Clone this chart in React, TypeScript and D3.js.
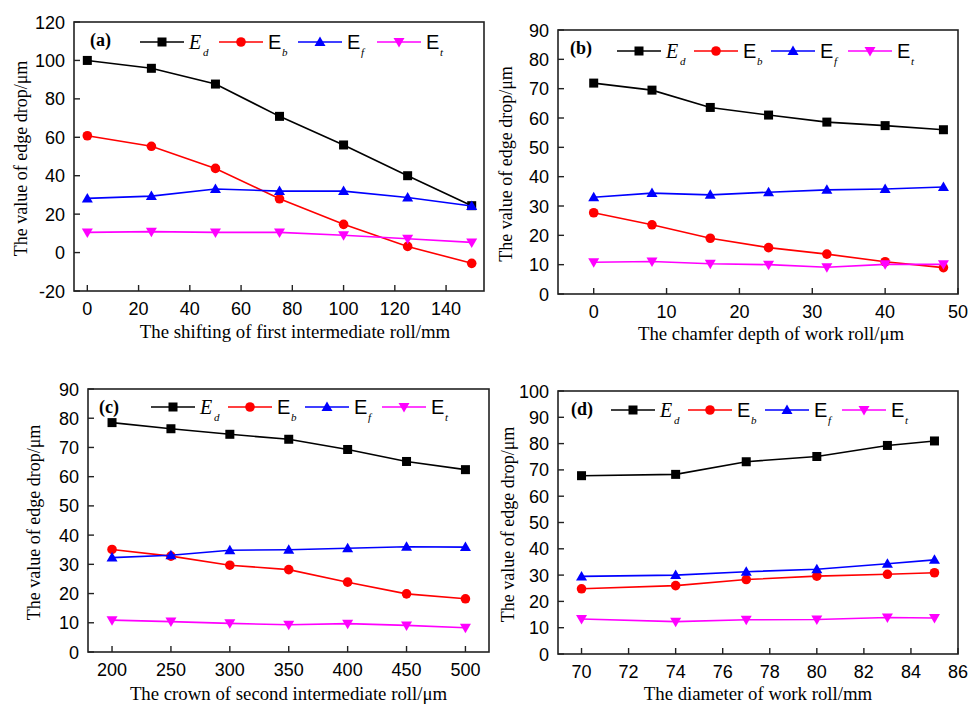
import React from 'react';
import * as d3 from 'd3';

// (a) shifting of first intermediate roll
const shiftX = [0, 25, 50, 75, 100, 125, 150];
const shiftEd = [100, 95.9, 87.7, 70.9, 56, 40, 24.4];
const shiftEb = [60.8, 55.3, 43.8, 28, 14.7, 3.2, -5.6];
const shiftEf = [28.2, 29.4, 33.1, 32, 32, 28.7, 24.2];
const shiftEt = [10.5, 10.9, 10.5, 10.5, 9, 7.2, 5.3];

// (b) chamfer depth of work roll
const chamferX = [0, 8, 16, 24, 32, 40, 48];
const chamferEd = [71.9, 69.5, 63.6, 61, 58.6, 57.4, 56];
const chamferEb = [27.7, 23.6, 19, 15.8, 13.6, 11, 9];
const chamferEf = [33, 34.4, 33.8, 34.7, 35.5, 35.8, 36.5];
const chamferEt = [10.8, 11.1, 10.3, 10, 9.1, 10.1, 10.1];

// (c) crown of second intermediate roll
const crownX = [200, 250, 300, 350, 400, 450, 500];
const crownEd = [78.5, 76.4, 74.5, 72.8, 69.3, 65.2, 62.4];
const crownEb = [35.1, 32.8, 29.7, 28.2, 23.9, 19.9, 18.2];
const crownEf = [32.3, 33.1, 34.8, 35, 35.5, 36, 35.9];
const crownEt = [10.9, 10.4, 9.8, 9.3, 9.7, 9.1, 8.3];

// (d) diameter of work roll
const diamX = [70, 74, 77, 80, 83, 85];
const diamEd = [67.8, 68.3, 73.1, 75.1, 79.3, 81];
const diamEb = [24.8, 26, 28.3, 29.6, 30.3, 30.9];
const diamEf = [29.5, 30, 31.3, 32.2, 34.3, 35.8];
const diamEt = [13.3, 12.3, 13, 13.1, 13.9, 13.7];

const seriesNames = ['d', 'b', 'f', 't'];
const seriesColors = ['#000000', '#ff0000', '#0000ff', '#ff00ff'];
const seriesMarkers = ['square', 'circle', 'up', 'down'];

const serif = '"Liberation Serif", "Times New Roman", serif';
const sans = '"Liberation Sans", Arial, sans-serif';

const Marker = ({ type, x, y, color }) => {
  if (type === 'square') return <rect x={x - 4.5} y={y - 4.5} width={9} height={9} fill={color} />;
  if (type === 'circle') return <circle cx={x} cy={y} r={4.8} fill={color} />;
  if (type === 'up') return <path d={`M${x},${y - 5.5}L${x + 5.5},${y + 4}L${x - 5.5},${y + 4}Z`} fill={color} />;
  return <path d={`M${x},${y + 5.5}L${x + 5.5},${y - 4}L${x - 5.5},${y - 4}Z`} fill={color} />;
};

const Panel = ({ box, xDomain, yDomain, xTicks, yTicks, xs, series, tag, xTitle, titleX, xTitleY, xTitleDx, legendDx, legendDy, legendStep, tagDx }) => {
  const x = d3.scaleLinear().domain(xDomain).range([box.left, box.right]);
  const y = d3.scaleLinear().domain(yDomain).range([box.bottom, box.top]);
  const line = d3.line<number>().x((_, i) => x(xs[i])).y((v) => y(v));
  const ly = box.top + legendDy;
  return (
    <g>
      {series.map((vals, s) => (
        <g key={s}>
          <path d={line(vals)} fill="none" stroke={seriesColors[s]} strokeWidth={1.6} />
          {vals.map((v, i) => (
            <Marker key={i} type={seriesMarkers[s]} x={x(xs[i])} y={y(v)} color={seriesColors[s]} />
          ))}
        </g>
      ))}
      <rect x={box.left} y={box.top} width={box.right - box.left} height={box.bottom - box.top} fill="none" stroke="#222" strokeWidth={1.6} />
      {xTicks.map((t) => (
        <g key={t}>
          <line x1={x(t)} x2={x(t)} y1={box.bottom} y2={box.bottom - 6} stroke="#222" strokeWidth={1.4} />
          <text x={x(t)} y={box.bottom + 24} textAnchor="middle" fontFamily={sans} fontSize={18}>{t}</text>
        </g>
      ))}
      {yTicks.map((t) => (
        <g key={t}>
          <line x1={box.left} x2={box.left + 6} y1={y(t)} y2={y(t)} stroke="#222" strokeWidth={1.4} />
          <text x={box.left - 9} y={y(t) + 6.5} textAnchor="end" fontFamily={sans} fontSize={18}>{t}</text>
        </g>
      ))}
      <text x={(box.left + box.right) / 2 + xTitleDx} y={xTitleY} textAnchor="middle" fontFamily={serif} fontSize={18.8}>{xTitle}</text>
      <text transform={`translate(${titleX},${(box.top + box.bottom) / 2 + 2}) rotate(-90)`} textAnchor="middle" fontFamily={serif} fontSize={18}>
        The value of edge drop/μm
      </text>
      <text x={box.left + tagDx} y={box.top + 24} fontFamily={serif} fontWeight="bold" fontSize={18}>{tag}</text>
      {seriesNames.map((n, s) => {
        const lx = box.left + legendDx + s * legendStep;
        return (
          <g key={n}>
            <line x1={lx} x2={lx + 44} y1={ly} y2={ly} stroke={seriesColors[s]} strokeWidth={1.6} />
            <Marker type={seriesMarkers[s]} x={lx + 22} y={ly} color={seriesColors[s]} />
            <text x={lx + 49} y={ly + 7} fontFamily={s === 0 ? serif : sans} fontStyle={s === 0 ? 'italic' : 'normal'} fontSize={20}>E</text>
            <text x={lx + 63} y={ly + 14} fontFamily={serif} fontStyle="italic" fontSize={11}>{n}</text>
          </g>
        );
      })}
    </g>
  );
};

export default function App() {
  return (
    <svg width={969} height={704} style={{ position: 'absolute', left: 0, top: 0, background: '#fff' }}>
      <Panel
        box={{ left: 74, right: 484, top: 22, bottom: 291 }}
        xDomain={[-5.2, 154.8]} yDomain={[-20, 120]}
        xTicks={d3.range(0, 141, 20)} yTicks={d3.range(-20, 121, 20)}
        xs={shiftX} series={[shiftEd, shiftEb, shiftEf, shiftEt]}
        tag="(a)" xTitle="The shifting of first intermediate roll/mm"
        titleX={27} xTitleY={338} xTitleDx={16} legendDx={66} legendDy={20} legendStep={79} tagDx={16}
      />
      <Panel
        box={{ left: 558, right: 958, top: 30, bottom: 294 }}
        xDomain={[-4.9, 50]} yDomain={[0, 90]}
        xTicks={d3.range(0, 51, 10)} yTicks={d3.range(0, 91, 10)}
        xs={chamferX} series={[chamferEd, chamferEb, chamferEf, chamferEt]}
        tag="(b)" xTitle="The chamfer depth of work roll/μm"
        titleX={512} xTitleY={340} xTitleDx={13} legendDx={59} legendDy={21} legendStep={77} tagDx={12}
      />
      <Panel
        box={{ left: 88, right: 489, top: 389, bottom: 652 }}
        xDomain={[179.6, 520]} yDomain={[0, 90]}
        xTicks={d3.range(200, 501, 50)} yTicks={d3.range(0, 91, 10)}
        xs={crownX} series={[crownEd, crownEb, crownEf, crownEt]}
        tag="(c)" xTitle="The crown of second intermediate roll/μm"
        titleX={40} xTitleY={700} xTitleDx={0} legendDx={63} legendDy={18} legendStep={77} tagDx={11}
      />
      <Panel
        box={{ left: 558, right: 958, top: 391, bottom: 654 }}
        xDomain={[69, 86]} yDomain={[0, 100]}
        xTicks={d3.range(70, 87, 2)} yTicks={d3.range(0, 101, 10)}
        xs={diamX} series={[diamEd, diamEb, diamEf, diamEt]}
        tag="(d)" xTitle="The diameter of work roll/mm"
        titleX={514} xTitleY={700} xTitleDx={0} legendDx={53} legendDy={19} legendStep={77} tagDx={13}
      />
    </svg>
  );
}
